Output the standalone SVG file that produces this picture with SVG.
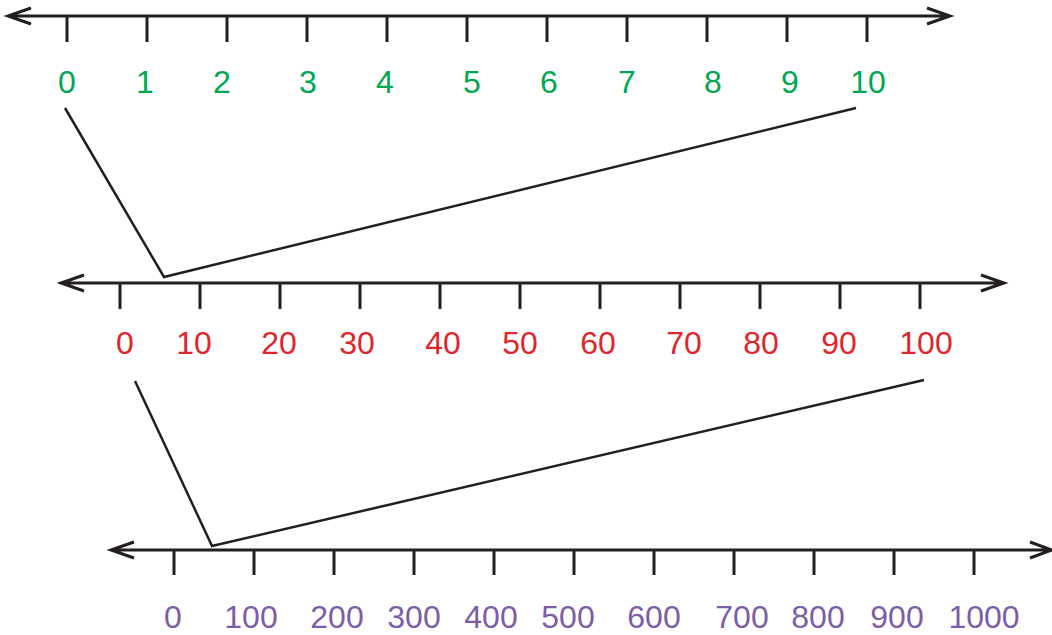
<svg xmlns="http://www.w3.org/2000/svg" width="1052" height="635" viewBox="0 0 1052 635">
<style>
.ax{stroke:#231f20;stroke-width:3;fill:none}
.tk{stroke:#231f20;stroke-width:3}
.cn{stroke:#231f20;stroke-width:2.5;fill:none;stroke-linejoin:miter}
text{font-family:"Liberation Sans",Arial,sans-serif;font-size:32px;text-anchor:middle}
.g{fill:#00a651}.r{fill:#e0262d}.p{fill:#7b5ea7}
</style>
<rect width="1052" height="635" fill="#fff"/>
<g id="line1">
<path class="ax" d="M8,16H950M31,8L8,16L31,24M927,8L950,16L927,24"/>
<path class="tk" d="M67,16V42M147,16V42M227,16V42M307,16V42M387,16V42M467,16V42M547,16V42M627,16V42M707,16V42M787,16V42M867,16V42"/>
<g class="g"><text x="67" y="93">0</text><text x="145" y="93">1</text><text x="222" y="93">2</text><text x="308" y="93">3</text><text x="385" y="93">4</text><text x="472" y="93">5</text><text x="549" y="93">6</text><text x="627" y="93">7</text><text x="713" y="93">8</text><text x="790" y="93">9</text><text x="868" y="93">10</text></g>
</g>
<g id="line2">
<path class="ax" d="M61,283H1004M84,275L61,283L84,291M981,275L1004,283L981,291"/>
<path class="tk" d="M120,283V309M200,283V309M280,283V309M360,283V309M440,283V309M520,283V309M600,283V309M680,283V309M760,283V309M840,283V309M920,283V309"/>
<g class="r"><text x="125" y="354">0</text><text x="194" y="354">10</text><text x="279" y="354">20</text><text x="357" y="354">30</text><text x="443" y="354">40</text><text x="520" y="354">50</text><text x="598" y="354">60</text><text x="684" y="354">70</text><text x="761" y="354">80</text><text x="839" y="354">90</text><text x="926" y="354">100</text></g>
</g>
<g id="line3">
<path class="ax" d="M111,550H1052M134,542L111,550L134,558M1030,542L1052,550L1030,558"/>
<path class="tk" d="M174,550V575M254,550V575M334,550V575M414,550V575M494,550V575M574,550V575M654,550V575M734,550V575M814,550V575M894,550V575M974,550V575"/>
<g class="p"><text x="173" y="628">0</text><text x="251" y="628">100</text><text x="337" y="628">200</text><text x="414" y="628">300</text><text x="491" y="628">400</text><text x="568" y="628">500</text><text x="654" y="628">600</text><text x="742" y="628">700</text><text x="818" y="628">800</text><text x="897" y="628">900</text><text x="984" y="628">1000</text></g>
</g>
<g id="connectors">
<polyline class="cn" points="65,108 164,277 856,108"/>
<polyline class="cn" points="135,381 212,546 924,380"/>
</g>
</svg>
